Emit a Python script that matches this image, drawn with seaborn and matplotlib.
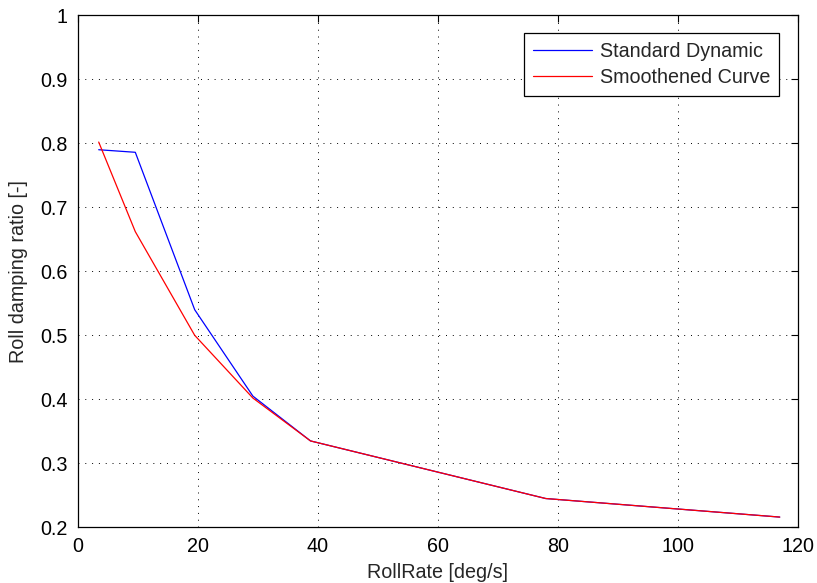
import matplotlib
matplotlib.use("Agg")
import matplotlib.pyplot as plt
import seaborn as sns
import pandas as pd

# Roll rate samples [deg/s] and damping ratios for both curves
roll_rate = [3.5, 9.6, 19.5, 29.2, 38.8, 78.0, 117.0]
standard_dynamic = [0.790, 0.786, 0.540, 0.405, 0.335, 0.245, 0.216]
smoothened_curve = [0.802, 0.662, 0.500, 0.402, 0.335, 0.245, 0.216]
series_names = ["Standard Dynamic", "Smoothened Curve"]

x_ticks = [0, 20, 40, 60, 80, 100, 120]
y_ticks = [0.2, 0.3, 0.4, 0.5, 0.6, 0.7, 0.8, 0.9, 1.0]
y_tick_labels = ["0.2", "0.3", "0.4", "0.5", "0.6", "0.7", "0.8", "0.9", "1"]

df = pd.concat([
    pd.DataFrame({"rate": roll_rate, "ratio": standard_dynamic, "series": series_names[0]}),
    pd.DataFrame({"rate": roll_rate, "ratio": smoothened_curve, "series": series_names[1]}),
], ignore_index=True)

sns.set_style("white")
plt.rcParams["font.family"] = ["Liberation Sans", "DejaVu Sans"]
FS = 14.2
plt.rcParams["font.size"] = FS

fig = plt.figure(figsize=(8.17, 5.83), dpi=100)
ax = fig.add_axes([0.0951, 0.0955, 0.8813, 0.8782])

sns.lineplot(data=df, x="rate", y="ratio", hue="series", hue_order=series_names,
             palette={series_names[0]: "#0000ff", series_names[1]: "#ff0000"},
             linewidth=0.9, ax=ax, sort=False, estimator=None)

ax.set_xlim(0, 120)
ax.set_ylim(0.2, 1.0)
ax.set_xticks(x_ticks)
ax.set_xticklabels([str(t) for t in x_ticks])
ax.set_yticks(y_ticks)
ax.set_yticklabels(y_tick_labels)

ax.grid(True, color="black", linestyle=(0, (1, 6)), linewidth=0.7)
ax.tick_params(direction="in", length=5, width=0.8, top=True, right=True,
               labelsize=FS, colors="black")
ax.tick_params(axis="x", pad=7)
ax.tick_params(axis="y", pad=7)
for s in ax.spines.values():
    s.set_visible(True)
    s.set_color("black")
    s.set_linewidth(0.9)

ax.set_xlabel("RollRate [deg/s]", fontsize=FS, labelpad=5)
ax.set_ylabel("Roll damping ratio [-]", fontsize=FS, labelpad=9)

leg = ax.legend(loc="upper right", bbox_to_anchor=(0.974, 0.9654), borderaxespad=0,
                frameon=True, fancybox=False, framealpha=1, edgecolor="black",
                fontsize=FS, handlelength=3.0, handletextpad=0.4,
                borderpad=0.45, labelspacing=0.35)
leg.get_frame().set_linewidth(0.9)

fig.savefig("out.png", dpi=100, facecolor="white")
